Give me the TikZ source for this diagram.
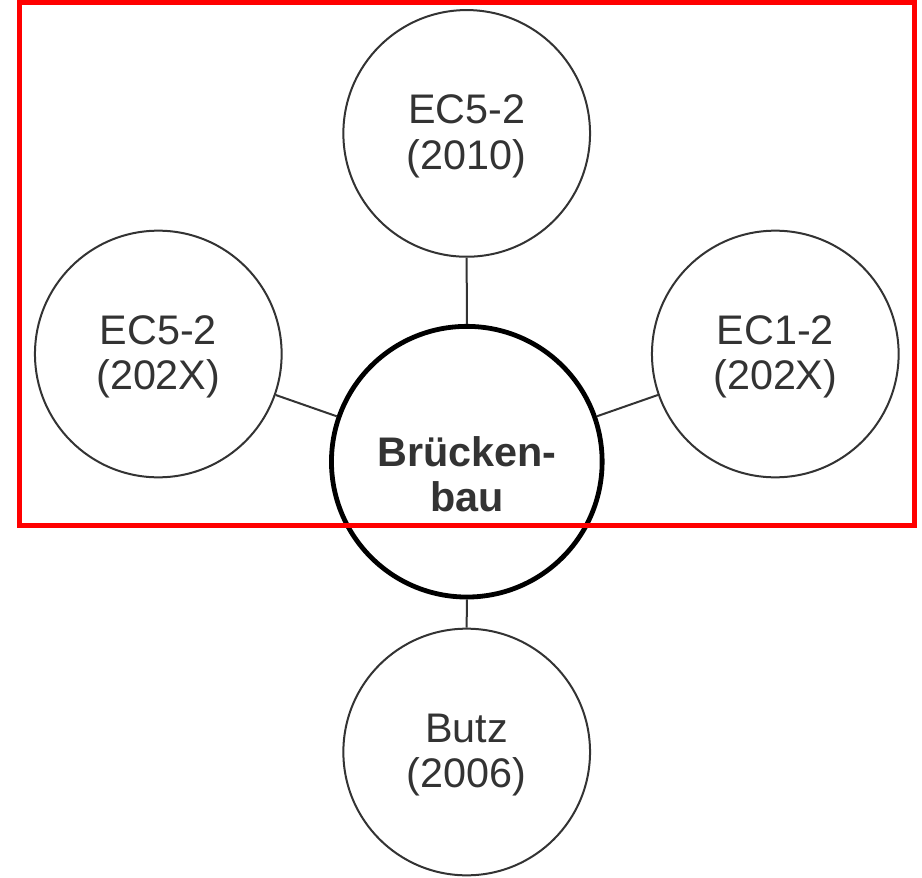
\documentclass[tikz,border=0pt]{standalone}
\usepackage{fontspec}
\setmainfont{Liberation Sans}
\usepackage{tikz}
\definecolor{rahmenRot}{HTML}{FF0000}
\definecolor{textGrau}{HTML}{333333}

\begin{document}
\begin{tikzpicture}[x=0.75pt,y=-0.75pt,
  kreis/.style={circle,draw=textGrau,line width=1.5pt,inner sep=0pt,
    minimum size=185pt,align=center,text=textGrau,text depth=2.2pt,
    font=\fontsize{31}{34}\selectfont},
  hauptkreis/.style={kreis,draw=black,line width=3.6pt,minimum size=203pt,
    text height=75pt,text depth=0pt,font=\fontsize{31}{34}\selectfont\bfseries},
  verbindung/.style={draw=textGrau,line width=1.5pt}]
\useasboundingbox (0,0) rectangle (922,878);
\node[hauptkreis] (bau) at (466.8,461.7) {Brücken-\\bau};
\node[kreis] (ecOben) at (466.7,133.4) {EC5-2\\(2010)};
\node[kreis] (ecLinks) at (158.3,354) {EC5-2\\(202X)};
\node[kreis] (ecRechts) at (775.3,354) {EC1-2\\(202X)};
\node[kreis] (butz) at (466.7,752) {Butz\\(2006)};
\draw[verbindung] (ecOben) -- (bau);
\draw[verbindung] (ecLinks) -- (bau);
\draw[verbindung] (ecRechts) -- (bau);
\draw[verbindung] (butz) -- (bau);
% roter Rahmen liegt obenauf
\draw[rahmenRot,line width=3.75pt] (19.5,2.5) rectangle (914.5,525.5);
\end{tikzpicture}
\end{document}
